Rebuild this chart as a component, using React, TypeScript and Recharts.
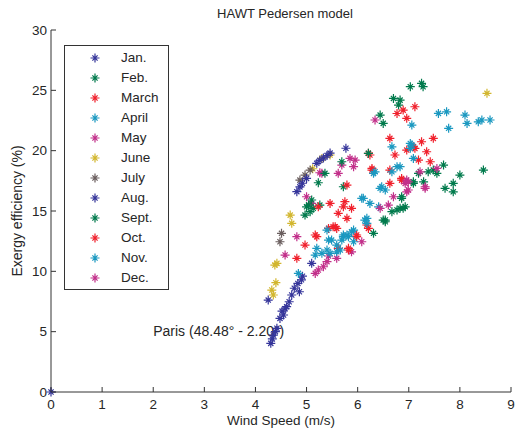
import React from 'react';
import { ScatterChart, Scatter, XAxis, YAxis, ReferenceDot } from 'recharts';

type P = [number, number];

const xTicks = [0, 1, 2, 3, 4, 5, 6, 7, 8, 9];
const yTicks = [0, 5, 10, 15, 20, 25, 30];

const jan: P[] = [[0, 0], [4.3, 4.03], [4.33, 4.4], [4.35, 4.72], [4.39, 5.0], [4.42, 5.28], [4.48, 6.1], [4.52, 6.7], [4.55, 6.38], [4.61, 7.07], [4.66, 7.48], [4.71, 8.04], [4.76, 8.6], [4.86, 8.31], [4.83, 9.0], [4.9, 9.3], [4.25, 7.62], [5.1, 10.66], [4.92, 9.6], [4.58, 6.9]];
const feb: P[] = [[7.03, 25.3], [7.25, 25.58], [7.28, 25.3], [6.7, 24.33], [6.83, 24.19], [6.8, 23.78], [6.44, 22.95], [6.5, 22.26], [7.68, 18.81], [7.48, 18.39], [7.55, 18.12], [7.19, 18.12], [7.09, 17.29], [7.29, 17.42], [8.0, 17.98], [7.87, 17.29], [7.71, 16.88], [7.87, 16.59], [8.46, 18.39], [7.38, 18.25]];
const march: P[] = [[6.63, 21.02], [6.73, 19.64], [6.96, 20.05], [6.28, 18.53], [6.63, 18.39], [6.86, 17.56], [6.63, 17.29], [6.21, 19.78], [7.12, 23.64], [6.89, 23.36], [6.96, 22.68], [7.48, 21.02], [7.25, 20.74], [7.12, 20.19], [7.35, 19.91], [7.19, 19.22], [7.42, 19.08], [6.86, 17.7], [6.77, 23.08], [7.09, 20.32], [6.24, 19.64], [6.28, 18.39]];
const april: P[] = [[6.67, 20.32], [6.34, 18.25], [6.77, 18.67], [6.67, 18.25], [6.47, 17.01], [6.54, 16.74], [7.58, 23.09], [7.74, 23.22], [8.1, 22.95], [8.14, 22.26], [8.36, 22.39], [8.43, 22.54], [8.59, 22.54], [7.78, 21.85], [7.06, 22.12], [7.06, 20.46], [7.03, 20.19], [7.09, 19.36], [6.83, 18.67], [7.03, 20.6]];
const may: P[] = [[5.17, 9.83], [5.23, 10.11], [5.33, 10.38], [5.4, 10.8], [5.59, 11.08], [5.43, 11.27], [4.58, 11.35], [4.81, 12.87], [5.0, 16.18], [5.1, 15.63], [5.26, 18.17], [5.3, 18.12], [5.62, 18.12], [5.69, 18.81], [5.85, 19.36], [5.95, 19.22], [5.92, 18.67], [5.88, 11.62], [6.08, 12.45]];
const june: P[] = [[4.32, 8.45], [4.35, 8.04], [4.4, 9.06], [4.38, 10.52], [4.42, 10.66], [4.68, 14.66], [4.71, 13.98], [5.12, 18.5], [5.3, 19.36], [5.46, 19.64], [8.53, 24.75]];
const july: P[] = [[4.48, 12.45], [4.51, 13.15], [4.87, 17.56], [4.97, 17.98], [5.07, 18.39]];
const aug: P[] = [[4.81, 16.6], [4.87, 17.0], [4.92, 17.3], [5.2, 18.95], [5.26, 19.2], [5.33, 19.4], [5.4, 19.6], [5.46, 19.8], [5.77, 20.2], [5.0, 17.7]];
const sept: P[] = [[6.21, 19.78], [5.69, 19.08], [5.36, 18.12], [5.23, 17.34], [5.72, 17.01], [5.1, 15.91], [5.04, 15.49], [5.13, 15.22], [4.97, 14.66], [5.26, 15.49], [5.07, 14.94], [5.0, 15.35], [6.31, 13.15], [6.54, 14.11], [6.86, 16.05], [6.89, 15.22], [6.77, 15.08], [6.67, 14.94], [6.54, 14.25], [6.5, 14.25], [6.83, 15.22], [7.09, 17.42], [6.86, 16.18], [6.93, 15.35]];
const oct: P[] = [[5.79, 17.15], [5.46, 15.63], [5.23, 15.35], [5.75, 15.77], [5.72, 15.35], [5.88, 15.22], [5.62, 14.81], [5.79, 14.39], [6.18, 13.84], [5.52, 13.7], [5.59, 13.56], [5.43, 13.56], [5.2, 12.87], [4.97, 12.18], [4.81, 11.08], [5.82, 11.91], [5.98, 12.87], [6.21, 13.56], [5.17, 13.01], [5.62, 11.91], [5.82, 11.77], [5.98, 13.01], [5.56, 13.7]];
const nov: P[] = [[6.11, 16.05], [6.24, 15.63], [6.41, 15.35], [6.18, 14.39], [6.14, 14.25], [5.92, 13.42], [5.72, 12.87], [5.82, 12.87], [5.4, 13.42], [5.43, 12.59], [5.59, 12.18], [5.2, 11.91], [5.3, 11.49], [5.17, 11.35], [5.46, 11.49], [4.84, 9.83], [5.49, 12.59], [5.69, 12.59], [5.72, 13.01], [5.4, 11.77], [5.59, 11.62], [5.88, 13.28], [5.79, 13.01], [5.92, 12.45], [6.18, 13.98], [5.66, 11.77], [6.31, 18.12], [6.44, 16.88], [6.08, 16.05]];
const dec: P[] = [[6.44, 15.22], [6.6, 15.49], [6.7, 16.18], [6.96, 17.56], [6.96, 16.59], [6.34, 22.54], [7.22, 18.25], [7.32, 17.01], [6.99, 17.42], [6.99, 16.74], [7.55, 18.53], [6.93, 17.29], [7.32, 16.88]];

const monthNames = ['Jan.', 'Feb.', 'March', 'April', 'May', 'June', 'July', 'Aug.', 'Sept.', 'Oct.', 'Nov.', 'Dec.'];
const monthColors = ['#35359a', '#007a4c', '#f0202c', '#1a98c0', '#c22f8a', '#d2b62e', '#6a5e5e', '#35359a', '#007a4c', '#f0202c', '#1a98c0', '#c22f8a'];
const monthData: P[][] = [jan, feb, march, april, may, june, july, aug, sept, oct, nov, dec];

const titleText = 'HAWT Pedersen model';
const xLabel = 'Wind Speed (m/s)';
const yLabel = 'Exergy efficiency (%)';
const noteText = 'Paris (48.48° - 2.20°)';
const notePos = { x: 2.0, y: 5.05 };

const FONT = '"Liberation Sans", Arial, Helvetica, sans-serif';
const TXT = '#262626';
const AX = '#333333';

function starPath(cx: number, cy: number) {
  const a = 4.5;
  const d = 2.6;
  return `M${cx - a},${cy}H${cx + a}M${cx},${cy - a}V${cy + a}M${cx - d},${cy - d}L${cx + d},${cy + d}M${cx - d},${cy + d}L${cx + d},${cy - d}`;
}

const makeShape = (color: string) => (props: any) => {
  const { cx, cy } = props;
  if (cx == null || cy == null) return <g />;
  return <path d={starPath(cx, cy)} stroke={color} strokeWidth={1.2} fill="none" />;
};

const BottomTick = (props: any) => {
  const { x, y, payload } = props;
  return (
    <g>
      <line x1={x} x2={x} y1={y} y2={y - 5} stroke={AX} />
      <text x={x} y={y + 16.5} textAnchor="middle" fontSize={13.5} fontFamily={FONT} fill={TXT}>{payload.value}</text>
    </g>
  );
};
const TopTick = (props: any) => {
  const { x, y } = props;
  return <line x1={x} x2={x} y1={y} y2={y + 5} stroke={AX} />;
};
const LeftTick = (props: any) => {
  const { x, y, payload } = props;
  return (
    <g>
      <line x1={x} x2={x + 5} y1={y} y2={y} stroke={AX} />
      <text x={x - 4} y={y + 4.8} textAnchor="end" fontSize={13.5} fontFamily={FONT} fill={TXT}>{payload.value}</text>
    </g>
  );
};
const RightTick = (props: any) => {
  const { x, y } = props;
  return <line x1={x} x2={x - 5} y1={y} y2={y} stroke={AX} />;
};

const NoteShape = (props: any) => {
  const { cx, cy } = props;
  return (
    <text x={cx} y={cy + 5} fontSize={14} fontFamily={FONT} fill={TXT}>{noteText}</text>
  );
};

const Legend = () => (
  <div
    style={{
      position: 'absolute',
      left: 64,
      top: 45,
      width: 105,
      height: 245,
      boxSizing: 'border-box',
      border: `1px solid ${AX}`,
      background: '#fff',
      paddingTop: 2,
      fontFamily: FONT,
      fontSize: 13.5,
      color: TXT,
    }}
  >
    {monthNames.map((n, i) => (
      <div key={n} style={{ height: 20, position: 'relative' }}>
        <svg width={14} height={14} style={{ position: 'absolute', left: 23, top: 3 }}>
          <path d={starPath(7, 7)} stroke={monthColors[i]} strokeWidth={1.2} fill="none" />
        </svg>
        <span style={{ position: 'absolute', left: 56, top: 2, lineHeight: '16px' }}>{n}</span>
      </div>
    ))}
  </div>
);

const Title = () => (
  <div
    style={{
      position: 'absolute',
      left: 185,
      width: 200,
      top: 6,
      textAlign: 'center',
      fontFamily: FONT,
      fontSize: 13,
      lineHeight: '15px',
      color: TXT,
    }}
  >
    {titleText}
  </div>
);

export default function App() {
  return (
    <div style={{ position: 'absolute', left: 0, top: 0, width: 515, height: 434, background: '#fff' }}>
      <ScatterChart width={515} height={434} margin={{ top: 30, right: 4, bottom: 0, left: 0 }}>
        <XAxis
          xAxisId="b"
          type="number"
          dataKey="x"
          domain={[0, 9]}
          ticks={xTicks}
          height={42}
          tickSize={0}
          tickMargin={0}
          tick={BottomTick}
          axisLine={{ stroke: AX }}
          label={{ value: xLabel, position: 'insideBottom', offset: 9, fontSize: 13.5, fill: TXT, fontFamily: FONT }}
        />
        <XAxis
          xAxisId="t"
          orientation="top"
          type="number"
          dataKey="x"
          domain={[0, 9]}
          ticks={xTicks}
          allowDataOverflow
          height={0}
          tickSize={0}
          tickMargin={0}
          tick={TopTick}
          axisLine={{ stroke: AX }}
        />
        <YAxis
          yAxisId="l"
          type="number"
          dataKey="y"
          domain={[0, 30]}
          ticks={yTicks}
          width={51}
          tickSize={0}
          tickMargin={0}
          tick={LeftTick}
          axisLine={{ stroke: AX }}
          label={{ value: yLabel, angle: -90, position: 'insideLeft', offset: 17, fontSize: 14, fill: TXT, fontFamily: FONT, style: { textAnchor: 'middle' } }}
        />
        <YAxis
          yAxisId="r"
          orientation="right"
          type="number"
          dataKey="y"
          domain={[0, 30]}
          ticks={yTicks}
          allowDataOverflow
          width={0}
          tickSize={0}
          tickMargin={0}
          tick={RightTick}
          axisLine={{ stroke: AX }}
        />
        <ReferenceDot xAxisId="b" yAxisId="l" x={notePos.x} y={notePos.y} r={0} shape={NoteShape} zIndex={-1} />
        {monthData.map((pts, i) => (
          <Scatter
            key={monthNames[i]}
            name={monthNames[i]}
            xAxisId="b"
            yAxisId="l"
            data={pts.map(([x, y]) => ({ x, y }))}
            fill={monthColors[i]}
            shape={makeShape(monthColors[i])}
            isAnimationActive={false}
          />
        ))}
      </ScatterChart>
      <Title />
      <Legend />
    </div>
  );
}
